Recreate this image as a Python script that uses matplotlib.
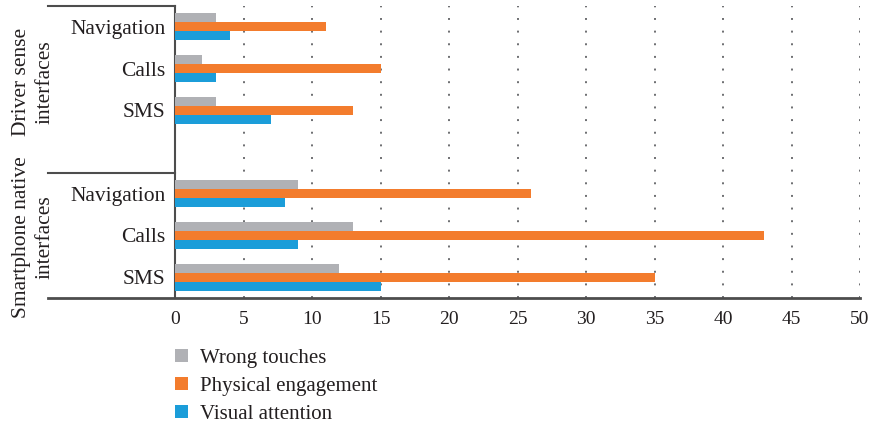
import matplotlib
matplotlib.use("Agg")
import matplotlib.pyplot as plt
from matplotlib.patches import Patch
import numpy as np

categories = ["SMS", "Calls", "Navigation"]
groups = ["Smartphone native\ninterfaces", "Driver sense\ninterfaces"]
series_names = ["Wrong touches", "Physical engagement", "Visual attention"]
# order per group: SMS, Calls, Navigation
smartphone_wrong = [12, 13, 9]
smartphone_physical = [35, 43, 26]
smartphone_visual = [15, 9, 8]
driver_wrong = [3, 2, 3]
driver_physical = [13, 15, 11]
driver_visual = [7, 3, 4]
x_ticks = [0, 5, 10, 15, 20, 25, 30, 35, 40, 45, 50]

colors = ["#B0B1B5", "#F37C2D", "#1B9DD9"]
txt = "#231F20"

plt.rcParams['font.family'] = ['Liberation Serif', 'DejaVu Serif']
fig = plt.figure(figsize=(8.71, 4.25), dpi=100)
ax = fig.add_axes([175/871, 1-298/425, (860-175)/871, (298-6)/425])

y_smart = np.array([0, 1, 2])
y_driver = np.array([4, 5, 6])
h = 0.215
for ys, vals_list in [(y_smart, [smartphone_wrong, smartphone_physical, smartphone_visual]),
                      (y_driver, [driver_wrong, driver_physical, driver_visual])]:
    for i, vals in enumerate(vals_list):
        ax.barh(ys + (1 - i) * h, vals, height=h, color=colors[i], zorder=3)

ax.set_xlim(0, 50)
ax.set_ylim(-0.5, 6.5)
ax.set_xticks(x_ticks)
ax.set_xticklabels([str(t) for t in x_ticks], fontsize=14, color=txt)
ax.set_yticks(list(y_smart) + list(y_driver))
ax.set_yticklabels(categories + categories, fontsize=15.5, color=txt)
ax.tick_params(axis='both', length=0)
ax.tick_params(axis='y', pad=7)
ax.tick_params(axis='x', pad=9)
for s in ['top', 'right', 'bottom']:
    ax.spines[s].set_visible(False)
ax.spines['left'].set_color("#4D4D4D")
ax.spines['left'].set_linewidth(1.5)
ax.xaxis.grid(True, linestyle=(0, (1, 5.5)), color="#6D6E71", linewidth=1.4, zorder=0)
ax.set_axisbelow(True)

# separator lines
x0 = (48 - 175) / 685 * 50
lc = "#4D4D4D"
ax.plot([x0, 0], [6.5, 6.5], color=lc, lw=1.5, clip_on=False, zorder=5)
ax.plot([x0, 0], [2.5, 2.5], color=lc, lw=1.5, clip_on=False, zorder=5)
ax.plot([x0, 50], [-0.5, -0.5], color=lc, lw=2, clip_on=False, zorder=5)

# group labels
fig.text(33/871, 1-82/425, groups[1], rotation=90, ha='center', va='center',
         fontsize=15.5, color=txt, linespacing=1.3)
fig.text(33/871, 1-237/425, groups[0], rotation=90, ha='center', va='center',
         fontsize=15.5, color=txt, linespacing=1.3)

handles = [Patch(facecolor=c, edgecolor='none') for c in colors]
fig.legend(handles, series_names, loc='upper left',
           bbox_to_anchor=(156/871, 1-330/425), frameon=False, fontsize=15,
           handlelength=0.62, handleheight=0.62, handletextpad=0.6, labelspacing=0.43,
           labelcolor=txt)

fig.savefig("out.png", dpi=100)
